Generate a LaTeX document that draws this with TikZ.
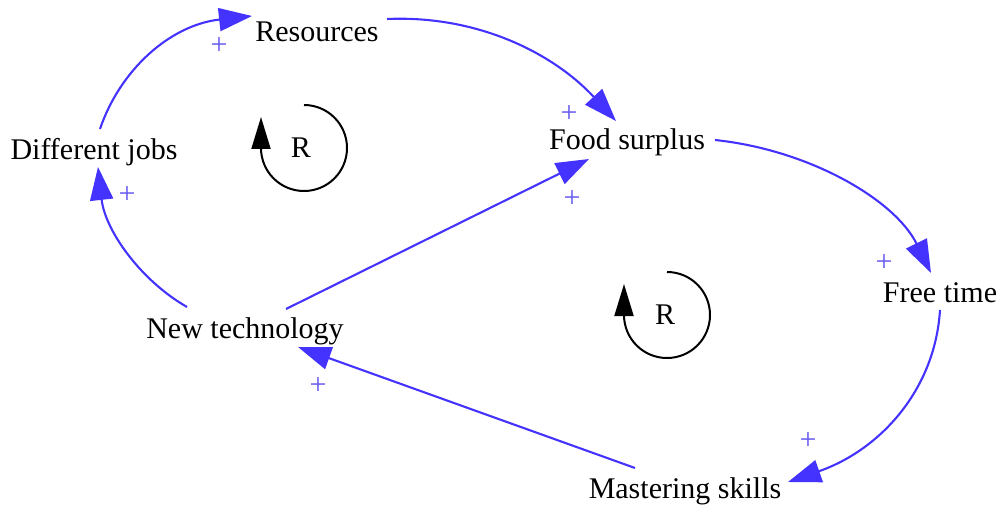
\documentclass[tikz,border=0pt]{standalone}
\usepackage{fontspec}
\setmainfont{Liberation Serif}
\newfontfamily\cldfont{Liberation Serif}
\usetikzlibrary{arrows.meta}
\definecolor{linkblue}{RGB}{68,51,255}
\definecolor{signblue}{RGB}{100,88,238}

\begin{document}
\begin{tikzpicture}[
  x=1pt, y=-1pt,
  var/.style={anchor=base, inner sep=0pt, font=\cldfont\fontsize{30}{36}\selectfont},
  sign/.style={text=signblue, inner sep=0pt, font=\cldfont\fontsize{30}{36}\selectfont},
  looplbl/.style={inner sep=0pt, font=\cldfont\fontsize{30}{36}\selectfont},
  arr/.style={draw=linkblue, line width=2.1pt, -{Triangle[length=33pt,width=23pt]}},
  loopr/.style={line width=2pt, -{Triangle[length=32pt,width=19pt]}}
]
\useasboundingbox (0,0) rectangle (1005,508);

% variables
\node[var] (res) at (317,42) {Resources};
\node[var] (jobs) at (94,160) {Different jobs};
\node[var] (food) at (627,150) {Food surplus};
\node[var] (free) at (940,302) {Free time};
\node[var] (newt) at (245,338) {New technology};
\node[var] (skills) at (685,498) {Mastering skills};

% links
\draw[arr] ([shift={(6,-31)}]jobs.base) .. controls (120,70) and (170,25) .. ([shift={(-65,-26)}]res.base);
\draw[arr] ([shift={(70,-23)}]res.base) .. controls (480,15) and (555,55) .. ([shift={(-11,-29)}]food.base);
\draw[arr] ([shift={(41,-29)}]newt.base) -- ([shift={(-38,9)}]food.base);
\draw[arr] ([shift={(88,-10)}]food.base) .. controls (810,150) and (895,200) .. ([shift={(-9,-29)}]free.base);
\draw[arr] ([shift={(0,8)}]free.base) .. controls (935,390) and (880,450) .. ([shift={(103,-16)}]skills.base);
\draw[arr] ([shift={(-50,-30)}]skills.base) -- ([shift={(53,9)}]newt.base);
\draw[arr] ([shift={(-58,-31)}]newt.base) .. controls (140,280) and (105,230) .. ([shift={(4,7)}]jobs.base);

% polarities
\node[sign] (s1) at (219,46) {+};
\node[sign] (s2) at (569,114) {+};
\node[sign] (s3) at (572,199) {+};
\node[sign] (s4) at (884,263) {+};
\node[sign] (s5) at (808,441) {+};
\node[sign] (s6) at (318,386) {+};
\node[sign] (s7) at (127,195) {+};

% loops
\node[looplbl] (loopa) at (301,148) {R};
\draw[loopr] (loopa.center) ++(3,-43) arc[start angle=-90, end angle=180, radius=43] -- ++(0,-31);
\node[looplbl] (loopb) at (665,315) {R};
\draw[loopr] (loopb.center) ++(2,-43) arc[start angle=-90, end angle=180, radius=43] -- ++(0,-31);
\end{tikzpicture}
\end{document}
